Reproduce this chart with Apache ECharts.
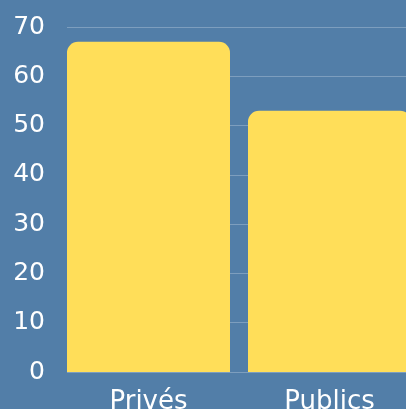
<!DOCTYPE html>
<html><head><meta charset="utf-8">
<script src="https://cdn.jsdelivr.net/npm/echarts@6/dist/echarts.min.js"></script>
<style>html,body{margin:0;padding:0;background:#527ea8;overflow:hidden;width:406px;height:409px;}#c{width:420px;height:409px;}</style>
</head><body><div id="c"></div>
<script>
const categories = ["Privés", "Publics"];
const values = [67, 53];
const yTicks = [0, 10, 20, 30, 40, 50, 60, 70];

const chart = echarts.init(document.getElementById('c'));
const font = '"DejaVu Sans", sans-serif';
chart.setOption({
  backgroundColor: '#527ea8',
  animation: false,
  grid: [
    {left: 67, right: 14, top: 27, bottom: 37, outerBoundsMode: 'none', containLabel: false},
    {left: 58, right: 0, top: 27, bottom: 37, outerBoundsMode: 'none', containLabel: false}
  ],
  xAxis: [
    {gridIndex: 0, type: 'category', data: categories, show: false},
    {gridIndex: 1, type: 'category', data: categories,
     axisLine: {show: false}, axisTick: {show: false},
     axisLabel: {color: '#ffffff', fontSize: 26, fontFamily: font, margin: 17}}
  ],
  yAxis: [
    {gridIndex: 0, type: 'value', min: yTicks[0], max: yTicks[yTicks.length-1], interval: 10,
     axisLine: {show: false}, axisTick: {show: false},
     axisLabel: {color: '#ffffff', fontSize: 25, fontFamily: font, margin: 22},
     splitLine: {lineStyle: {color: 'rgba(255,255,255,0.25)', width: 1}}},
    {gridIndex: 1, type: 'value', min: yTicks[0], max: yTicks[yTicks.length-1], show: false}
  ],
  series: [{
    type: 'bar', xAxisIndex: 1, yAxisIndex: 1,
    data: values, barWidth: 163,
    itemStyle: {color: '#ffde59', borderRadius: [11, 11, 0, 0]}
  }]
});
</script></body></html>
